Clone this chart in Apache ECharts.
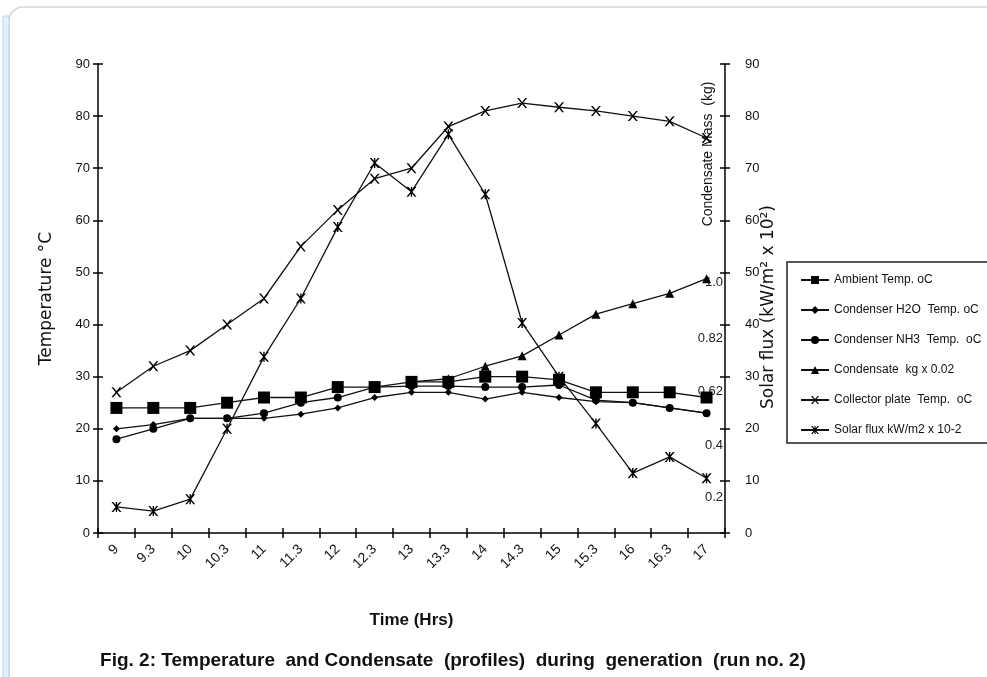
<!DOCTYPE html>
<html><head><meta charset="utf-8">
<script src="https://cdn.jsdelivr.net/npm/echarts@6/dist/echarts.min.js"></script>
<style>html,body{margin:0;padding:0;background:#fff}#c{width:987px;height:677px}</style>
</head><body><div id="c"></div>
<script>
// ---------------- data ----------------
const categories = ['9','9.3','10','10.3','11','11.3','12','12.3','13','13.3','14','14.3','15','15.3','16','16.3','17'];
const ambientTemp   = [24, 24, 24, 25, 26, 26, 28, 28, 29, 29, 30, 30, 29.4, 27, 27, 27, 26];
const condH2OTemp   = [20, 20.8, 22, 22, 22, 22.8, 24, 26, 27, 27, 25.7, 27, 26, 25.2, 25, 24, 23];
const condNH3Temp   = [18, 20, 22, 22, 23, 25, 26, 28, 28.2, 28.2, 28, 28, 28.4, 25.5, 25, 24, 23];
const condensateKg  = [null, null, null, null, null, null, null, null, 29, 29.6, 32, 34, 38, 42, 44, 46, 48.8];
const collectorTemp = [27, 32, 35, 40, 45, 55, 62, 68, 70, 78, 81, 82.5, 81.7, 81, 80, 79, 75.8];
const solarFlux     = [5, 4.2, 6.5, 20, 33.8, 45, 58.7, 71, 65.5, 76.5, 65, 40.3, 30, 21, 11.5, 14.6, 10.5];
const seriesNames = ['Ambient Temp. oC', 'Condenser H2O  Temp. oC', 'Condenser NH3  Temp.  oC',
                     'Condensate  kg x 0.02', 'Collector plate  Temp.  oC', 'Solar flux kW/m2 x 10-2'];
const condensateScaleLabels = ['1.0', '0.82', '0.62', '0.4', '0.2'];

// ---------------- layout ----------------
const FF = "'Liberation Sans', Arial, sans-serif";
const FW = "'DejaVu Sans', 'Liberation Sans', sans-serif";
const condensateLabelAt = [48, 37.4, 27.2, 16.9, 6.9]; // vertical anchor on temperature scale
const X_PATH = 'path://M0,0L1.8,0L5,3.8L8.2,0L10,0L5.9,5L10,10L8.2,10L5,6.2L1.8,10L0,10L4.1,5Z';
const STAR_PATH = 'path://M0,0L1.8,0L5,3.8L8.2,0L10,0L5.9,5L10,10L8.2,10L5,6.2L1.8,10L0,10L4.1,5Z M4.3,0L5.7,0L5.7,10L4.3,10Z';

const chart = echarts.init(document.getElementById('c'), null, {renderer: 'canvas'});

function mk(name, data, symbol, size, z) {
  return {
    name, type: 'line', data, symbol, symbolSize: size, showSymbol: true,
    symbolKeepAspect: true, connectNulls: false,
    lineStyle: {color: '#111', width: 1.3},
    itemStyle: {color: '#000'},
    emphasis: {disabled: true}, z: z, animation: false
  };
}

const axisLineStyle = {color: '#000', width: 1.5};
const tickStyle = {color: '#000', width: 1.5};

const option = {
  animation: false,
  backgroundColor: '#fff',
  grid: [
    {left: 98, right: 262, top: 64, bottom: 144},
    {left: 98, right: 262, top: 64, bottom: 144}
  ],
  title: {
    text: 'Fig. 2: Temperature  and Condensate  (profiles)  during  generation  (run no. 2)',
    left: 448, top: 646, textAlign: 'center',
    textStyle: {fontFamily: FF, fontSize: 19, fontWeight: 'bold', color: '#111'}
  },
  legend: {
    orient: 'vertical', left: 795, top: 269, itemWidth: 28, itemHeight: 10, itemGap: 18,
    selectedMode: false, data: seriesNames,
    textStyle: {fontFamily: FF, fontSize: 12, color: '#111'}
  },
  xAxis: [
    {
      type: 'category', data: categories, gridIndex: 0, boundaryGap: true,
      name: 'Time (Hrs)', nameLocation: 'middle', nameGap: 79,
      nameTextStyle: {fontFamily: FF, fontSize: 17, fontWeight: 'bold', color: '#111'},
      axisLine: {show: true, lineStyle: axisLineStyle},
      axisTick: {show: true, length: 5, lineStyle: tickStyle},
      axisLabel: {rotate: 45, margin: 14, fontFamily: FF, fontSize: 14, color: '#111', interval: 0},
      splitLine: {show: false}
    },
    {
      type: 'category', data: categories, gridIndex: 1, boundaryGap: true,
      axisLine: {show: false},
      axisTick: {show: true, inside: true, length: 5, lineStyle: tickStyle},
      axisLabel: {show: false}, splitLine: {show: false}
    }
  ],
  yAxis: [
    {
      type: 'value', gridIndex: 0, position: 'left', min: 0, max: 90, interval: 10,
      name: 'Temperature °C', nameLocation: 'middle', nameGap: 43, nameRotate: 90,
      nameTextStyle: {fontFamily: FW, fontSize: 17, color: '#111'},
      axisLine: {show: true, lineStyle: axisLineStyle},
      axisTick: {show: true, length: 5, lineStyle: tickStyle},
      axisLabel: {margin: 8, fontFamily: FF, fontSize: 13, color: '#111'},
      splitLine: {show: false}
    },
    {
      type: 'value', gridIndex: 0, position: 'right', min: 0, max: 90, interval: 10,
      axisLine: {show: true, lineStyle: axisLineStyle},
      axisTick: {show: true, length: 5, lineStyle: tickStyle},
      axisLabel: {margin: 20, fontFamily: FF, fontSize: 13, color: '#111'},
      splitLine: {show: false}
    },
    {
      type: 'value', gridIndex: 1, position: 'left', min: 0, max: 90, interval: 10,
      axisLine: {show: false},
      axisTick: {show: true, inside: true, length: 5, lineStyle: tickStyle},
      axisLabel: {show: false}, splitLine: {show: false}
    },
    {
      type: 'value', gridIndex: 1, position: 'right', min: 0, max: 90, interval: 10,
      axisLine: {show: false},
      axisTick: {show: true, inside: true, length: 5, lineStyle: tickStyle},
      axisLabel: {show: false}, splitLine: {show: false}
    }
  ],
  series: [
    mk(seriesNames[0], ambientTemp, 'rect', 12, 8),
    mk(seriesNames[1], condH2OTemp, 'diamond', 7, 3),
    mk(seriesNames[2], condNH3Temp, 'circle', 8, 4),
    mk(seriesNames[3], condensateKg, 'triangle', 9, 5),
    mk(seriesNames[4], collectorTemp, X_PATH, 10, 6),
    mk(seriesNames[5], solarFlux, STAR_PATH, 10, 7)
  ]
};
chart.setOption(option);

// secondary annotations placed through the chart's own scale
const gfx = [
  // page frame artefacts
  {type: 'rect', shape: {x: 9, y: 7, width: 1000, height: 720, r: [14, 0, 0, 0]},
   style: {fill: 'none', stroke: '#d4d8db', lineWidth: 1.5}, z: -10},
  {type: 'rect', shape: {x: 3, y: 16, width: 6, height: 670},
   style: {fill: '#e6f0f8', stroke: '#b9d3e8', lineWidth: 1}, z: -10},
  // legend frame
  {type: 'rect', shape: {x: 787, y: 262, width: 220, height: 181},
   style: {fill: 'none', stroke: '#222', lineWidth: 1.5}, z: 1},
  // right-side axis titles
  {type: 'text', x: 708, y: 154, rotation: Math.PI / 2,
   style: {text: 'Condensate Mass  (kg)', fontFamily: FF, fontSize: 14, fill: '#111',
           align: 'center', verticalAlign: 'middle'}},
  {type: 'text', x: 769, y: 307, rotation: Math.PI / 2,
   style: {text: 'Solar flux (kW/m² x 10²)', fontFamily: FW, fontSize: 17, fill: '#111',
           align: 'center', verticalAlign: 'middle'}}
];
condensateScaleLabels.forEach((t, i) => {
  const py = chart.convertToPixel({yAxisIndex: 0}, condensateLabelAt[i]);
  gfx.push({type: 'text', x: 723, y: py,
    style: {text: t, fontFamily: FF, fontSize: 13, fill: '#222', align: 'right', verticalAlign: 'middle'}});
});
chart.setOption({graphic: gfx});
</script></body></html>
